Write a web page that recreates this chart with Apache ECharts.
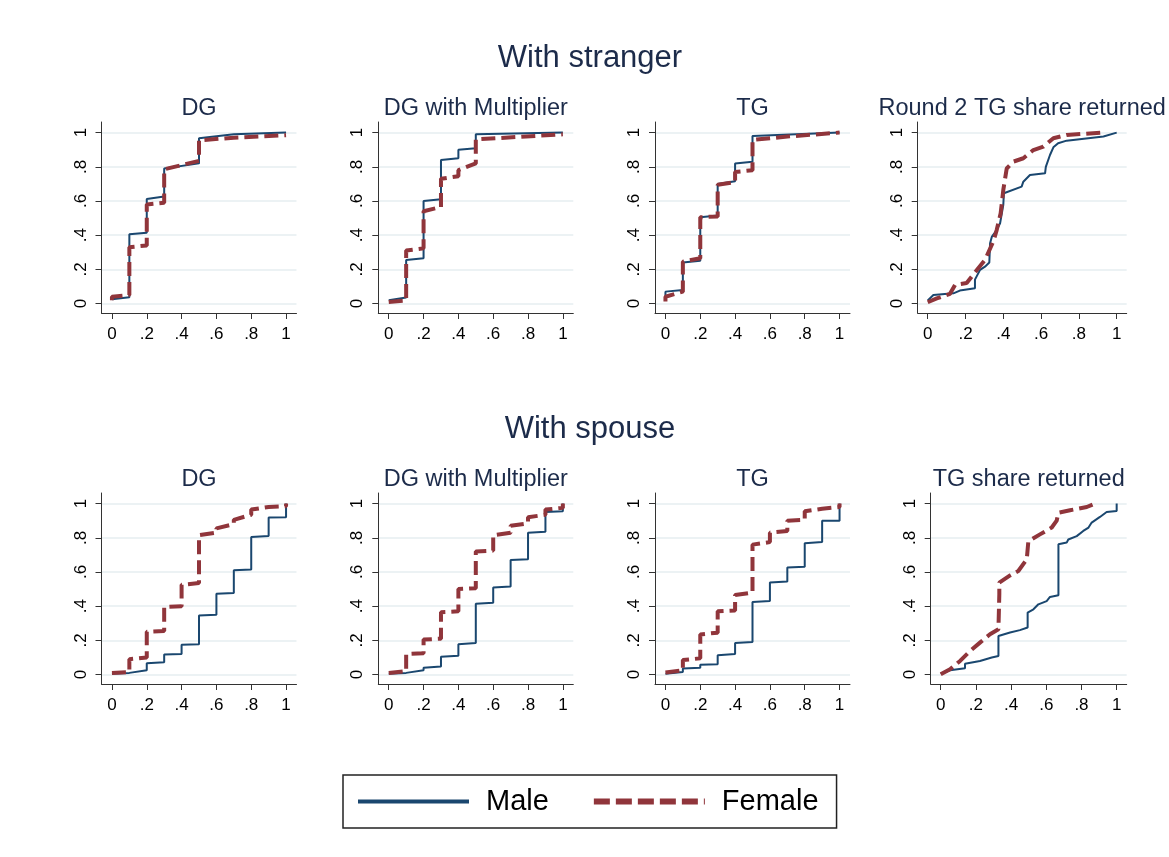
<!DOCTYPE html>
<html>
<head>
<meta charset="utf-8">
<script src="https://cdn.jsdelivr.net/npm/echarts@6/dist/echarts.min.js"></script>
<style>
html,body{margin:0;padding:0;background:#fff;}
#chart{width:1169px;height:857px;}
</style>
</head>
<body>
<div id="chart"></div>
<script>
// ---------- DATA ----------
const tickValues = [0, 0.2, 0.4, 0.6, 0.8, 1];
const tickLabels = ['0', '.2', '.4', '.6', '.8', '1'];
const sectionTitles = ['With stranger', 'With spouse'];
const panelTitles = ['DG', 'DG with Multiplier', 'TG', 'Round 2 TG share returned',
                     'DG', 'DG with Multiplier', 'TG', 'TG share returned'];
const seriesNames = ['Male', 'Female'];

// With stranger — DG
const sDG_male_x   = [0, 0.1, 0.1, 0.2, 0.2, 0.3, 0.3, 0.5, 0.5, 0.7, 1];
const sDG_male_y   = [0.025, 0.037, 0.405, 0.415, 0.612, 0.626, 0.79, 0.82, 0.967, 0.99, 1];
const sDG_female_x = [0, 0, 0.1, 0.1, 0.2, 0.2, 0.3, 0.3, 0.5, 0.5, 0.7, 1];
const sDG_female_y = [0.02, 0.04, 0.05, 0.33, 0.34, 0.58, 0.59, 0.785, 0.835, 0.955, 0.97, 0.985];

// With stranger — DG with Multiplier
const sDGM_male_x   = [0, 0.1, 0.1, 0.2, 0.2, 0.3, 0.3, 0.4, 0.4, 0.5, 0.5, 1];
const sDGM_male_y   = [0.02, 0.035, 0.255, 0.265, 0.60, 0.61, 0.84, 0.85, 0.90, 0.908, 0.99, 1];
const sDGM_female_x = [0, 0.1, 0.1, 0.2, 0.2, 0.3, 0.3, 0.4, 0.4, 0.5, 0.5, 1];
const sDGM_female_y = [0.01, 0.018, 0.31, 0.323, 0.54, 0.565, 0.73, 0.745, 0.78, 0.82, 0.96, 0.99];

// With stranger — TG
const sTG_male_x   = [0, 0, 0.1, 0.1, 0.2, 0.2, 0.3, 0.3, 0.4, 0.4, 0.5, 0.5, 1];
const sTG_male_y   = [0.018, 0.07, 0.08, 0.24, 0.25, 0.505, 0.515, 0.70, 0.715, 0.82, 0.83, 0.98, 1];
const sTG_female_x = [0, 0, 0.1, 0.1, 0.2, 0.2, 0.3, 0.3, 0.4, 0.4, 0.5, 0.5, 0.7, 1];
const sTG_female_y = [0.012, 0.04, 0.07, 0.245, 0.265, 0.505, 0.51, 0.695, 0.71, 0.77, 0.78, 0.957, 0.977, 1];

// With stranger — Round 2 TG share returned
const sTGR_male_x   = [0, 0.03, 0.136, 0.17, 0.25, 0.25, 0.277, 0.303, 0.326, 0.33, 0.339, 0.365, 0.383, 0.40, 0.403, 0.497, 0.506, 0.541, 0.621, 0.625, 0.647, 0.665, 0.69, 0.735, 0.93, 1];
const sTGR_male_y   = [0.018, 0.05, 0.06, 0.076, 0.09, 0.14, 0.197, 0.216, 0.24, 0.353, 0.39, 0.43, 0.47, 0.577, 0.645, 0.684, 0.713, 0.752, 0.762, 0.80, 0.869, 0.914, 0.938, 0.953, 0.977, 1];
const sTGR_female_x = [0, 0.048, 0.118, 0.145, 0.206, 0.26, 0.303, 0.347, 0.365, 0.386, 0.40, 0.418, 0.453, 0.506, 0.559, 0.612, 0.665, 0.735, 0.93];
const sTGR_female_y = [0.008, 0.03, 0.057, 0.11, 0.12, 0.197, 0.255, 0.363, 0.43, 0.528, 0.665, 0.79, 0.83, 0.85, 0.898, 0.918, 0.967, 0.986, 1];

// With spouse — DG
const pDG_male_x   = [0, 0.1, 0.1, 0.2, 0.2, 0.3, 0.3, 0.4, 0.4, 0.5, 0.5, 0.6, 0.6, 0.7, 0.7, 0.8, 0.8, 0.9, 0.9, 1, 1];
const pDG_male_y   = [0.005, 0.01, 0.02, 0.025, 0.066, 0.072, 0.117, 0.12, 0.174, 0.178, 0.345, 0.35, 0.473, 0.477, 0.61, 0.615, 0.805, 0.81, 0.918, 0.92, 1];
const pDG_female_x = [0, 0.1, 0.1, 0.2, 0.2, 0.3, 0.3, 0.4, 0.4, 0.5, 0.5, 0.6, 0.6, 0.7, 0.7, 0.8, 0.8, 0.9, 1, 1];
const pDG_female_y = [0.01, 0.015, 0.09, 0.10, 0.25, 0.255, 0.395, 0.40, 0.525, 0.535, 0.815, 0.83, 0.855, 0.88, 0.905, 0.935, 0.965, 0.98, 0.985, 1];

// With spouse — DG with Multiplier
const pDGM_male_x   = [0, 0.1, 0.1, 0.2, 0.2, 0.3, 0.3, 0.4, 0.4, 0.5, 0.5, 0.6, 0.6, 0.7, 0.7, 0.8, 0.8, 0.9, 0.9, 1, 1];
const pDGM_male_y   = [0.005, 0.01, 0.02, 0.025, 0.04, 0.048, 0.105, 0.11, 0.177, 0.185, 0.415, 0.42, 0.509, 0.515, 0.67, 0.675, 0.83, 0.835, 0.951, 0.955, 1];
const pDGM_female_x = [0, 0.1, 0.1, 0.2, 0.2, 0.3, 0.3, 0.4, 0.4, 0.5, 0.5, 0.6, 0.6, 0.7, 0.7, 0.8, 0.8, 0.9, 0.9, 1, 1];
const pDGM_female_y = [0.01, 0.02, 0.12, 0.125, 0.205, 0.21, 0.365, 0.37, 0.50, 0.505, 0.72, 0.725, 0.815, 0.83, 0.87, 0.885, 0.92, 0.935, 0.965, 0.975, 1];

// With spouse — TG
const pTG_male_x   = [0, 0.1, 0.1, 0.2, 0.2, 0.3, 0.3, 0.4, 0.4, 0.5, 0.5, 0.6, 0.6, 0.7, 0.7, 0.8, 0.8, 0.9, 0.9, 1, 1];
const pTG_male_y   = [0.005, 0.015, 0.035, 0.04, 0.057, 0.06, 0.113, 0.12, 0.185, 0.19, 0.425, 0.43, 0.538, 0.545, 0.626, 0.63, 0.768, 0.775, 0.899, 0.90, 1];
const pTG_female_x = [0, 0.1, 0.1, 0.2, 0.2, 0.3, 0.3, 0.4, 0.4, 0.5, 0.5, 0.6, 0.6, 0.7, 0.7, 0.8, 0.8, 0.9, 1, 1];
const pTG_female_y = [0.012, 0.025, 0.085, 0.095, 0.235, 0.245, 0.37, 0.375, 0.465, 0.48, 0.76, 0.775, 0.83, 0.84, 0.90, 0.905, 0.955, 0.97, 0.98, 1];

// With spouse — TG share returned
const pTGR_male_x   = [0, 0.053, 0.138, 0.138, 0.223, 0.29, 0.328, 0.328, 0.394, 0.45, 0.494, 0.494, 0.527, 0.555, 0.602, 0.621, 0.669, 0.669, 0.716, 0.725, 0.773, 0.81, 0.84, 0.858, 0.905, 0.943, 1, 1];
const pTGR_male_y   = [0.006, 0.025, 0.037, 0.064, 0.08, 0.10, 0.109, 0.226, 0.246, 0.26, 0.275, 0.363, 0.382, 0.411, 0.43, 0.454, 0.464, 0.762, 0.772, 0.79, 0.81, 0.84, 0.86, 0.889, 0.922, 0.951, 0.957, 1];
const pTGR_female_x = [0, 0.053, 0.11, 0.167, 0.223, 0.28, 0.328, 0.333, 0.333, 0.394, 0.441, 0.489, 0.498, 0.564, 0.631, 0.659, 0.669, 0.735, 0.83, 0.877];
const pTGR_female_y = [0.002, 0.031, 0.08, 0.138, 0.187, 0.236, 0.265, 0.47, 0.538, 0.58, 0.606, 0.674, 0.78, 0.82, 0.86, 0.90, 0.947, 0.961, 0.98, 1];

const maleX   = [sDG_male_x, sDGM_male_x, sTG_male_x, sTGR_male_x, pDG_male_x, pDGM_male_x, pTG_male_x, pTGR_male_x];
const maleY   = [sDG_male_y, sDGM_male_y, sTG_male_y, sTGR_male_y, pDG_male_y, pDGM_male_y, pTG_male_y, pTGR_male_y];
const femaleX = [sDG_female_x, sDGM_female_x, sTG_female_x, sTGR_female_x, pDG_female_x, pDGM_female_x, pTG_female_x, pTGR_female_x];
const femaleY = [sDG_female_y, sDGM_female_y, sTG_female_y, sTGR_female_y, pDG_female_y, pDGM_female_y, pTG_female_y, pTGR_female_y];

// ---------- LAYOUT / STYLE ----------
const FONT = '"Liberation Sans", Arial, Helvetica, sans-serif';
const MALE_COLOR = '#1a476f';
const FEMALE_COLOR = '#90353b';
const TITLE_COLOR = '#1c2b4a';
const AXIS_COLOR = '#333333';
const GRID_COLOR = '#e6eef1';
const rowTop = [122, 493];
const gridH = 191;
const yMin = -0.055, yMax = 1.062;
const cells = [
  {left: 101.5, width: 195, xMin: -0.06, xMax: 1.06},
  {left: 378.3, width: 195, xMin: -0.06, xMax: 1.06},
  {left: 655,   width: 195, xMin: -0.06, xMax: 1.06},
  {left: 917.7, width: 209, xMin: -0.053, xMax: 1.053},
  {left: 101.5, width: 195, xMin: -0.06, xMax: 1.06},
  {left: 378.3, width: 195, xMin: -0.06, xMax: 1.06},
  {left: 655,   width: 195, xMin: -0.06, xMax: 1.06},
  {left: 930.7, width: 196, xMin: -0.057, xMax: 1.057}
];
const sectionTop = [43, 414];
const panelTitleTop = [97, 468];

function fmt(v) {
  const i = tickValues.findIndex(t => Math.abs(t - v) < 1e-9);
  return i >= 0 ? tickLabels[i] : '';
}
function zip(xs, ys) { return xs.map((x, i) => [x, ys[i]]); }

const grid = [], xAxis = [], yAxis = [], series = [], title = [];
sectionTitles.forEach((t, r) => {
  title.push({text: t, left: 590, top: sectionTop[r], textAlign: 'center', padding: 0,
    textStyle: {fontSize: 31, fontWeight: 'normal', color: TITLE_COLOR, fontFamily: FONT}});
});
cells.forEach((c, i) => {
  const r = i < 4 ? 0 : 1;
  grid.push({left: c.left, top: rowTop[r], width: c.width, height: gridH, containLabel: false});
  title.push({text: panelTitles[i], left: c.left + c.width / 2, top: panelTitleTop[r], textAlign: 'center', padding: 0,
    textStyle: {fontSize: 23.5, fontWeight: 'normal', color: TITLE_COLOR, fontFamily: FONT}});
  xAxis.push({
    type: 'value', gridIndex: i, min: c.xMin, max: c.xMax,
    axisLine: {show: true, onZero: false, lineStyle: {color: AXIS_COLOR, width: 1}},
    axisTick: {show: true, length: 6, customValues: tickValues, lineStyle: {color: AXIS_COLOR}},
    axisLabel: {customValues: tickValues, formatter: fmt, fontSize: 17, color: '#000', fontFamily: FONT, margin: 13},
    splitLine: {show: false}
  });
  yAxis.push({
    type: 'value', gridIndex: i, min: yMin, max: yMax,
    axisLine: {show: true, onZero: false, lineStyle: {color: AXIS_COLOR, width: 1}},
    axisTick: {show: true, length: 6, customValues: tickValues, lineStyle: {color: AXIS_COLOR}},
    axisLabel: {customValues: tickValues, formatter: fmt, fontSize: 17, color: '#000', fontFamily: FONT, rotate: 90, margin: 12},
    splitLine: {show: true, lineStyle: {color: GRID_COLOR, width: 1.5}}
  });
  series.push({
    name: seriesNames[0], type: 'line', xAxisIndex: i, yAxisIndex: i,
    data: zip(maleX[i], maleY[i]), symbol: 'none', showSymbol: false, silent: true,
    lineStyle: {color: MALE_COLOR, width: 2}, itemStyle: {color: MALE_COLOR}, z: 2
  });
  series.push({
    name: seriesNames[1], type: 'line', xAxisIndex: i, yAxisIndex: i,
    data: zip(femaleX[i], femaleY[i]), symbol: 'none', showSymbol: false, silent: true,
    lineStyle: {color: FEMALE_COLOR, width: 4, type: [14, 6]}, itemStyle: {color: FEMALE_COLOR}, z: 3
  });
});

const option = {
  backgroundColor: '#ffffff',
  animation: false,
  title: title,
  grid: grid, xAxis: xAxis, yAxis: yAxis, series: series,
  legend: {
    left: 343, top: 775,
    orient: 'horizontal',
    padding: [12, 18, 12, 13],
    borderColor: '#222', borderWidth: 1.5, borderRadius: 0,
    itemWidth: 111, itemHeight: 29, itemGap: 42,
    selectedMode: false,
    itemStyle: {opacity: 0},
    textStyle: {fontSize: 29, color: '#000', fontFamily: FONT, padding: [0, 0, 0, 12]},
    data: [
      {name: 'Male', lineStyle: {width: 4, color: MALE_COLOR, type: 'solid'}},
      {name: 'Female', lineStyle: {width: 6, color: FEMALE_COLOR, type: [16, 6]}}
    ]
  }
};
const chart = echarts.init(document.getElementById('chart'), null, {renderer: 'canvas'});
chart.setOption(option);
</script>
</body>
</html>
